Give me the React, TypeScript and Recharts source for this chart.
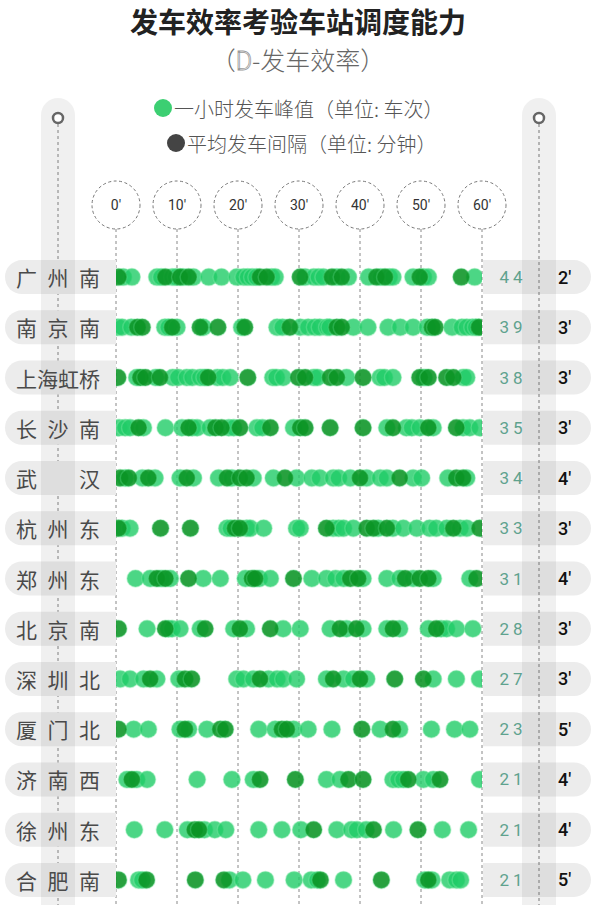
import React from 'react';
import { ScatterChart, Scatter, XAxis, YAxis, Customized } from 'recharts';

// stations, top to bottom
const stations = ['广州南', '南京南', '上海虹桥', '长沙南', '武汉', '杭州东', '郑州东', '北京南', '深圳北', '厦门北', '济南西', '徐州东', '合肥南'];
const peakPerHour = [44, 39, 38, 35, 34, 33, 31, 28, 27, 23, 21, 21, 21];
const avgInterval = [2, 3, 3, 3, 4, 3, 4, 3, 3, 5, 4, 4, 5];
const minuteTicks = [0, 10, 20, 30, 40, 50, 60];

// departure minutes inside the peak hour (light and dark dots)
const lightMinutes = [
  [1.2, 2.6, 6.7, 7.4, 9.2, 9.8, 11, 12.7, 15.2, 17.3, 19.8, 20.9, 21.6, 22.3, 23, 25.5, 26.1, 31, 32.4, 33.2, 34, 36.2, 38.1, 41.4, 43.4, 44.8, 45.4, 48.7, 50.4, 51.2, 58.8],
  [0.3, 1, 2.5, 8, 8.6, 10, 14.3, 20.6, 26.4, 27.3, 30.2, 31.5, 32.6, 33.4, 34.6, 35, 38.9, 41.3, 44.6, 46.6, 48.7, 51, 55.1, 56.7, 57.5, 58.4, 59],
  [3.4, 6.5, 9.3, 10.2, 11.6, 12.5, 13.8, 14.5, 16.6, 17.5, 18.7, 25.7, 26.3, 27.4, 32.4, 33, 37.8, 43.3, 44, 45.4, 50.5, 56.9, 57.5],
  [0.5, 1.5, 2.3, 4.5, 8.1, 10.8, 12.5, 13.3, 15.4, 18.5, 19.3, 23.1, 24, 29.1, 44.4, 47.6, 48.5, 49.8, 52, 56.9, 58, 59.6],
  [1.5, 4.3, 6.4, 10.5, 12.7, 16.8, 19, 22.5, 25.8, 29.6, 32.1, 33.4, 35.6, 36.5, 38.4, 41.1, 43.3, 44.4, 48.7, 50.1, 54.4, 57.5],
  [1, 2.3, 18.2, 18.8, 21.4, 22, 24.2, 29.6, 30.2, 35.6, 36.5, 37.3, 38.9, 43, 45.4, 47.1, 49.3, 51.4, 52.5, 54.2, 56.4, 57.5],
  [3.2, 5.6, 7.4, 8.9, 14.3, 17.1, 21.2, 23.5, 25.3, 32.1, 34.5, 36, 37.3, 40.5, 44.4, 46.5, 48.7, 52, 58],
  [5.1, 8.6, 9.2, 10.5, 13.8, 19.3, 21.4, 27.4, 30.2, 35.1, 37.8, 40.5, 44.4, 46.5, 51.2, 53.3, 54.2, 55.8, 58.5],
  [0.7, 2.3, 4.5, 6.7, 10.3, 19.8, 20.9, 22.5, 25, 26.4, 27.4, 29.6, 34.5, 37.3, 38.9, 41.1, 52, 55.8, 59.6],
  [2.9, 5.3, 10.5, 11.9, 14.9, 23.4, 26.1, 29.1, 31.5, 35.4, 43.3, 46.5, 51.7, 55.5, 58],
  [1.8, 3.4, 5.1, 13.3, 19, 22.5, 34.5, 36.7, 45.4, 46.3, 47.1, 50.4, 52, 59.6],
  [3, 8, 11.7, 14.5, 16.2, 18, 23.4, 27.2, 30.3, 36.2, 38.6, 39.5, 41, 45.5, 53.5, 57.8],
  [3.7, 4.3, 18.6, 20.8, 24.5, 29.2, 32, 33, 37.3, 50.6, 51.8, 54.7, 55.8, 56.5],
];
const darkMinutes = [
  [0.4, 8.1, 10.5, 11.9, 23.6, 24.7, 30.2, 35.4, 37, 42.7, 44.1, 49.8, 56.6],
  [3.5, 4.3, 9.2, 13.8, 16.7, 21.1, 28.5, 36.2, 37, 51.8, 52.3, 59.5],
  [0.3, 4, 4.8, 7.2, 15.1, 21.6, 29.9, 31, 35.1, 36.2, 40.5, 49.8, 51.2, 54.2, 55.3],
  [3.7, 11.9, 16.3, 17.3, 20.3, 25.3, 30.2, 31, 35.1, 40.5, 45.4, 51.2, 55.8],
  [0.7, 2.1, 5.3, 11.6, 18.2, 20.3, 21.4, 27.7, 40, 46.5, 55.8, 56.9],
  [0.4, 7.3, 12.2, 19.5, 20.3, 34.5, 41.1, 42.2, 44.4, 55.3, 59.6],
  [6.7, 8.1, 11.9, 22.3, 22.8, 29.1, 38.4, 39.7, 47.4, 49.8, 51.2, 59.1],
  [0.4, 8.1, 14.6, 20.3, 25.3, 36.7, 39.4, 45.4, 52.5],
  [5.6, 11.3, 12.4, 23.6, 35.6, 40, 45.7, 50.4],
  [0.4, 11.3, 17.1, 17.9, 27.2, 28, 40.3, 45.4],
  [2.6, 23.6, 29.4, 38.1, 40.5, 47.9, 53.1],
  [12.9, 13.6, 32.4, 42.2, 49.5],
  [0.4, 5, 13, 17.7, 33.5, 43.5, 51.2],
];

const W = 595;
const H = 905;
const PLOT_LEFT = 116;
const PLOT_RIGHT = 482;
const PLOT_TOP = 252;
const CJK = '"Noto Sans CJK SC", "Noto Sans", sans-serif';

const xOf = (m: number) => PLOT_LEFT + (m / 60) * (PLOT_RIGHT - PLOT_LEFT);
const rowY = (i: number) => PLOT_TOP + (i + 0.5) * (H - PLOT_TOP) / stations.length;

const lightPoints = lightMinutes.flatMap((ms, row) => ms.map((minute) => ({ minute, row })));
const darkPoints = darkMinutes.flatMap((ms, row) => ms.map((minute) => ({ minute, row })));

const LightDot = (p: any) => (
  <circle cx={p.cx} cy={p.cy} r={8.5} fill="#1fcc66" fillOpacity={0.8} stroke="#7ce8a6" strokeOpacity={0.4} strokeWidth={1.5} />
);
const DarkDot = (p: any) => (
  <circle cx={p.cx} cy={p.cy} r={8.5} fill="#0a9424" fillOpacity={0.88} stroke="#5fd98a" strokeOpacity={0.35} strokeWidth={1.5} />
);

const Background = () => (
  <g>
    {/* title */}
    <text x={298} y={33} textAnchor="middle" fontFamily={CJK} fontSize={28} fontWeight={700} fill="#222">
      发车效率考验车站调度能力
    </text>
    <text x={298} y={70} textAnchor="middle" fontFamily={CJK} fontSize={25} fontWeight={300} fill="#666">
      （<tspan fill="#fff" stroke="#999" strokeWidth={0.8} fontFamily="Roboto, sans-serif">D</tspan>-发车效率）
    </text>

    {/* legend */}
    <circle cx={163} cy={108} r={9} fill="#3ccf72" />
    <text x={174} y={108} dominantBaseline="central" fontFamily={CJK} fontSize={20} fontWeight={300} fill="#555">
      一小时发车峰值（单位: 车次）
    </text>
    <circle cx={176} cy={143} r={9} fill="#444" />
    <text x={187} y={143} dominantBaseline="central" fontFamily={CJK} fontSize={20} fontWeight={300} fill="#555">
      平均发车间隔（单位: 分钟）
    </text>

    {/* minute columns */}
    {minuteTicks.map((m) => (
      <g key={m}>
        <line x1={xOf(m)} x2={xOf(m)} y1={229} y2={H} stroke="#888" strokeWidth={1} strokeDasharray="3 3" />
        <circle cx={xOf(m)} cy={205} r={24} fill="#fff" stroke="#777" strokeWidth={1} strokeDasharray="3 2.5" />
        <text x={xOf(m)} y={205} textAnchor="middle" dominantBaseline="central" fontFamily="Roboto, sans-serif" fontSize={14} fill="#333">
          {`${m}'`}
        </text>
      </g>
    ))}

    {/* left pole line */}
    <line x1={58} x2={58} y1={124} y2={H} stroke="#888" strokeWidth={1} strokeDasharray="3 3" />

    {/* row pills */}
    {stations.map((_, i) => {
      const y0 = rowY(i) - 17;
      const y1 = rowY(i) + 17;
      return (
        <g key={i}>
          <path d={`M${PLOT_LEFT} ${y0} H22 A17 17 0 0 0 22 ${y1} H${PLOT_LEFT} Z`} fill="#ececec" />
          <path d={`M483 ${y0} H574 A17 17 0 0 1 574 ${y1} H483 Z`} fill="#ececec" />
        </g>
      );
    })}

    {/* poles */}
    <rect x={41} y={98} width={34} height={H - 98 + 20} rx={17} fill="#000" fillOpacity={0.06} />
    <rect x={522} y={98} width={34} height={H - 98 + 20} rx={17} fill="#000" fillOpacity={0.06} />
    <line x1={539} x2={539} y1={124} y2={H} stroke="#777" strokeWidth={1} strokeDasharray="3 3" />
    <circle cx={58} cy={118} r={5} fill="#fff" stroke="#666" strokeWidth={2.5} />
    <circle cx={539} cy={118} r={5} fill="#fff" stroke="#666" strokeWidth={2.5} />

    {/* row texts */}
    {stations.map((name, i) => {
      const chars = name.split('');
      const n = chars.length;
      return (
        <g key={name}>
          {chars.map((c, k) => (
            <text
              key={k}
              x={26.5 + (n > 1 ? (k * 63) / (n - 1) : 0)}
              y={rowY(i)}
              textAnchor="middle"
              dominantBaseline="central"
              fontFamily={CJK}
              fontSize={21}
              fill="#4a4a4a"
            >
              {c}
            </text>
          ))}
          <text x={513} y={rowY(i)} textAnchor="middle" dominantBaseline="central" fontFamily="Roboto, sans-serif" fontSize={17} letterSpacing={4} fill="#5fa28e">
            {peakPerHour[i]}
          </text>
          <text x={558} y={rowY(i)} dominantBaseline="central" fontFamily="Roboto, sans-serif" fontSize={18} fontWeight={500} fill="#111">
            {`${avgInterval[i]}'`}
          </text>
        </g>
      );
    })}
  </g>
);

export default function App() {
  return (
    <div style={{ position: 'absolute', left: 0, top: 0, width: W, height: H, background: '#fff' }}>
      <ScatterChart width={W} height={H} margin={{ top: PLOT_TOP, right: W - PLOT_RIGHT, bottom: 0, left: PLOT_LEFT }}>
        <Customized component={Background} />
        <XAxis type="number" dataKey="minute" domain={[0, 60]} allowDataOverflow hide />
        <YAxis type="number" dataKey="row" domain={[-0.5, stations.length - 0.5]} reversed hide />
        <Scatter data={lightPoints} shape={LightDot} isAnimationActive={false} />
        <Scatter data={darkPoints} shape={DarkDot} isAnimationActive={false} />
      </ScatterChart>
    </div>
  );
}
